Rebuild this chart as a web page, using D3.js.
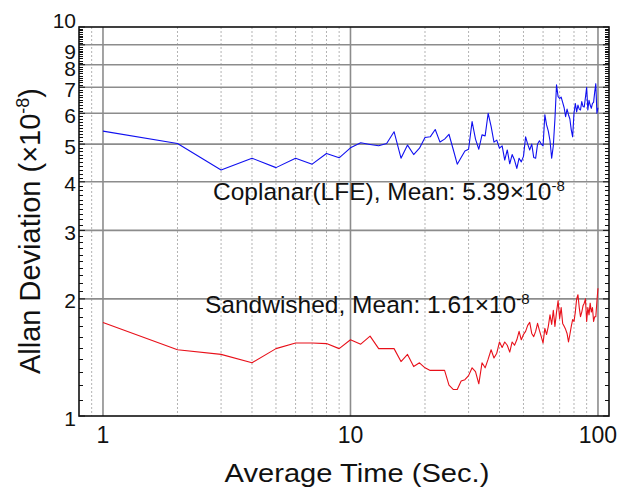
<!DOCTYPE html>
<html><head><meta charset="utf-8">
<script src="https://cdn.jsdelivr.net/npm/d3@7"></script>
<style>
body{margin:0;background:#fff}
svg{display:block}
text{font-family:"Liberation Sans",Arial,Helvetica,sans-serif;fill:#111}
</style>
</head><body>
<svg id="chart" width="620" height="494"></svg>
<script>
// ---- data ----
const tau = [1,2,3,4,5,6,7,8,9,10,11,12,13,14,15,16,17,18,19,20,
  21,22,23,24,25,26,27,28,29,30,31,32,33,34,35,36,37,38,39,40,
  41,42,43,44,45,46,47,48,49,50,51,52,53,54,55,56,57,58,59,60,
  61,62,63,64,65,66,67,68,69,70,71,72,73,74,75,76,77,78,79,80,
  81,82,83,84,85,86,87,88,89,90,91,92,93,94,95,96,97,98,99,100];

const coplanar = [5.40,5.02,4.29,4.60,4.35,4.60,4.44,4.73,4.61,4.89,
  5.04,4.99,4.95,5.02,5.38,4.60,4.97,4.70,4.88,5.20,
  5.22,5.45,5.06,5.15,5.30,4.85,4.44,4.62,4.80,4.85,
  5.71,5.15,4.85,5.28,5.25,6.00,5.55,5.06,5.12,4.88,
  4.95,4.55,4.83,4.45,4.70,4.55,4.33,4.60,4.50,4.65,
  5.22,5.00,4.83,5.00,4.62,4.60,5.00,5.10,5.00,4.95,
  5.95,5.60,5.40,5.10,4.60,4.95,5.80,7.10,6.62,6.55,
  6.60,6.40,6.20,5.88,6.15,5.95,5.80,5.44,5.22,6.00,
  6.36,6.05,6.30,6.15,6.12,6.43,6.25,6.23,6.60,7.00,
  6.12,6.48,6.30,6.18,6.36,6.40,6.80,7.15,6.00,6.20];

const sandwiched = [1.74,1.48,1.44,1.37,1.49,1.54,1.54,1.535,1.49,1.57,
  1.53,1.605,1.49,1.49,1.49,1.38,1.44,1.34,1.37,1.33,
  1.31,1.31,1.31,1.31,1.20,1.17,1.17,1.23,1.24,1.27,
  1.33,1.30,1.21,1.37,1.33,1.40,1.48,1.41,1.45,1.55,
  1.50,1.55,1.52,1.46,1.55,1.52,1.57,1.65,1.57,1.62,
  1.65,1.71,1.74,1.63,1.60,1.65,1.73,1.66,1.60,1.54,
  1.68,1.62,1.70,1.82,1.72,1.87,1.70,1.85,1.98,1.78,
  1.90,1.73,1.70,1.67,1.63,1.55,1.62,1.70,1.77,1.75,
  1.85,2.00,2.05,1.90,1.80,1.85,1.92,1.95,2.00,1.75,
  1.90,1.82,1.95,1.85,1.90,1.75,1.80,1.80,1.97,2.13];

const xMajorTicks = [1,10,100];
const xMinorGrid = [0.9,2,3,4,5,6,7,8,9,20,30,40,50,60,70,80,90];
const yMajorTicks = [1,2,3,4,5,6,7,8,9,10];
const coplanarLabel = "Coplanar(LFE), Mean: 5.39\u00d710";
const sandwichedLabel = "Sandwished, Mean: 1.61\u00d710";
const exponentLabel = "-8";
const xTitle = "Average Time (Sec.)";
const yTitle = "Allan Deviation (\u00d710";

// ---- chart ----
const svg = d3.select("#chart");
const L = 79, R = 609, T = 27, B = 416;
const x = d3.scaleLog().domain([0.8, 110.8]).range([L, R]);
const y = d3.scaleLog().domain([1, 10]).range([B, T]);

// minor dotted vertical grid
svg.append("g").selectAll("line").data(xMinorGrid).join("line")
  .attr("x1", d => x(d)).attr("x2", d => x(d))
  .attr("y1", T).attr("y2", B)
  .attr("stroke", "#b4b4b4").attr("stroke-width", 1)
  .attr("stroke-dasharray", "2,2");

// major vertical grid
svg.append("g").selectAll("line").data(xMajorTicks).join("line")
  .attr("x1", d => x(d)).attr("x2", d => x(d))
  .attr("y1", T).attr("y2", B)
  .attr("stroke", "#8c8c8c").attr("stroke-width", 1.6);

// major horizontal grid
svg.append("g").selectAll("line").data(yMajorTicks.slice(1, -1)).join("line")
  .attr("x1", L).attr("x2", R)
  .attr("y1", d => y(d)).attr("y2", d => y(d))
  .attr("stroke", "#8c8c8c").attr("stroke-width", 1.6);

// minor y ticks (inside, both sides)
const yMinor = d3.range(11, 100).filter(k => k % 10 !== 0).map(k => k / 10);
const tk = svg.append("g").attr("stroke", "#111").attr("stroke-width", 1);
tk.selectAll("line.l").data(yMinor).join("line").attr("class", "l")
  .attr("x1", L).attr("x2", L + 4)
  .attr("y1", d => Math.round(y(d)) + 0.5).attr("y2", d => Math.round(y(d)) + 0.5);
tk.selectAll("line.r").data(yMinor).join("line").attr("class", "r")
  .attr("x1", R).attr("x2", R - 4)
  .attr("y1", d => Math.round(y(d)) + 0.5).attr("y2", d => Math.round(y(d)) + 0.5);
tk.selectAll("line.ml").data(yMajorTicks).join("line").attr("class", "ml")
  .attr("x1", L).attr("x2", L + 6)
  .attr("y1", d => y(d)).attr("y2", d => y(d));
tk.selectAll("line.mr").data(yMajorTicks).join("line").attr("class", "mr")
  .attr("x1", R).attr("x2", R - 6)
  .attr("y1", d => y(d)).attr("y2", d => y(d));

// series lines
const line = d3.line().x(d => x(d[0])).y(d => y(d[1]));
svg.append("path").datum(tau.map((t, i) => [t, coplanar[i]]))
  .attr("d", line).attr("fill", "none")
  .attr("stroke", "#1010f0").attr("stroke-width", 1.1).attr("stroke-linejoin", "round");
svg.append("path").datum(tau.map((t, i) => [t, sandwiched[i]]))
  .attr("d", line).attr("fill", "none")
  .attr("stroke", "#e8101a").attr("stroke-width", 1.1).attr("stroke-linejoin", "round");

// frame
svg.append("rect").attr("x", L).attr("y", T).attr("width", R - L).attr("height", B - T)
  .attr("fill", "none").attr("stroke", "#111").attr("stroke-width", 1.6);

// y tick labels (top labels nudged apart as in the original)
svg.append("g").selectAll("text").data(yMajorTicks).join("text")
  .attr("x", 76)
  .attr("y", d => y(d) + 9.5 + (d === 10 ? -8.5 : d === 9 ? 4.8 : d === 8 ? 1.5 : 0))
  .attr("text-anchor", "end").attr("font-size", 21)
  .text(d => d);

// x tick labels
svg.append("g").selectAll("text").data(xMajorTicks).join("text")
  .attr("x", d => x(d)).attr("y", 443)
  .attr("text-anchor", "middle").attr("font-size", 23)
  .text(d => d);

// x title
svg.append("text")
  .attr("transform", "translate(357,482) scale(1.12,1)")
  .attr("text-anchor", "middle").attr("font-size", 26)
  .text(xTitle);

// y title
const yt = svg.append("text")
  .attr("transform", "translate(40,231) rotate(-90)")
  .attr("text-anchor", "middle").attr("font-size", 29);
yt.append("tspan").text(yTitle);
yt.append("tspan").attr("font-size", 18).attr("dy", -11).text(exponentLabel);
yt.append("tspan").attr("dy", 11).text(")");

// annotations
function annot(px, py, label) {
  const t = svg.append("text").attr("x", px).attr("y", py).attr("font-size", 24.5);
  t.append("tspan").text(label);
  t.append("tspan").attr("font-size", 15).attr("dy", -9).text(exponentLabel);
}
annot(213, 200, coplanarLabel);
annot(205, 313, sandwichedLabel);
</script>
</body></html>
